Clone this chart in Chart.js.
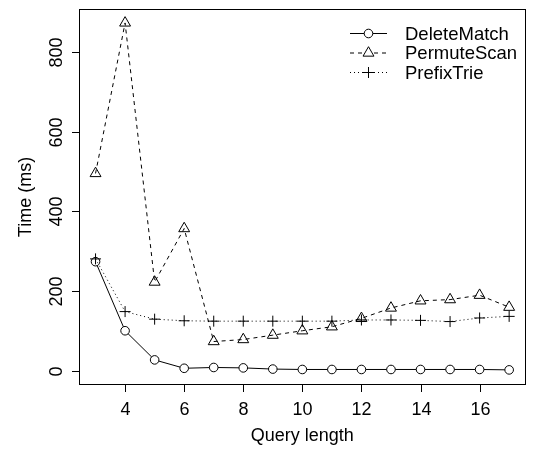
<!DOCTYPE html>
<html>
<head>
<meta charset="utf-8">
<script src="https://cdn.jsdelivr.net/npm/chart.js@4/dist/chart.umd.min.js"></script>
<style>
  html, body { margin: 0; padding: 0; background: #fff; }
  #wrap { width: 533px; height: 454px; }
</style>
</head>
<body>
<div id="wrap"><canvas id="timing" width="533" height="454"></canvas></div>
<script>
// query lengths and timings (ms)
const queryLength = [3, 4, 5, 6, 7, 8, 9, 10, 11, 12, 13, 14, 15, 16, 17];
const deleteMatch = [274, 101, 28, 7, 9, 8, 5, 4, 4, 4, 4, 4, 4, 4, 3];
const permuteScan = [495, 872, 223, 357, 74, 79, 90, 101, 111, 132, 158, 176, 179, 190, 160];
const prefixTrie = [281, 149, 130, 126, 125, 125, 125, 125, 125, 128, 128, 127, 124, 133, 137];

const xTicks = [4, 6, 8, 10, 12, 14, 16];
const yTicks = [0, 200, 400, 600, 800];
const seriesNames = ['DeleteMatch', 'PermuteScan', 'PrefixTrie'];

const AXIS_FONT = '18px "Liberation Sans", Arial, sans-serif';
const LEGEND_FONT = '18.5px "Liberation Sans", Arial, sans-serif';

function toPoints(ys) {
    return queryLength.map((x, i) => ({ x: x, y: ys[i] }));
}

// R-like axis range: data range padded by 4% each side
const xPad = (17 - 3) * 0.04;
const yPad = (872 - 0) * 0.04;

const styles = [
    { pointStyle: 'circle', pointRadius: 4.3, borderDash: [] },
    { pointStyle: 'triangle', pointRadius: 6.3, borderDash: [4, 4] },
    { pointStyle: 'cross', pointRadius: 5.5, borderDash: [1, 3] }
];

// box, ticks, tick labels, axis titles and legend, R base-graphics style
const rFrame = {
    id: 'rFrame',
    afterDraw(chart) {
        const ctx = chart.ctx;
        const area = chart.chartArea;
        const xs = chart.scales.x, ys = chart.scales.y;
        ctx.save();
        ctx.strokeStyle = '#000';
        ctx.fillStyle = '#000';
        ctx.lineWidth = 1;
        ctx.setLineDash([]);
        ctx.strokeRect(Math.round(area.left) + 0.5, Math.round(area.top) + 0.5,
            Math.round(area.right - area.left) - 1, Math.round(area.bottom - area.top) - 1);

        ctx.font = AXIS_FONT;
        // x axis
        ctx.textAlign = 'center';
        ctx.textBaseline = 'alphabetic';
        xTicks.forEach(v => {
            const px = Math.round(xs.getPixelForValue(v)) + 0.5;
            ctx.beginPath();
            ctx.moveTo(px, area.bottom);
            ctx.lineTo(px, area.bottom + 7);
            ctx.stroke();
            ctx.fillText(String(v), px, 415);
        });
        ctx.fillText('Query length', (area.left + area.right) / 2, 441);

        // y axis, labels read bottom to top
        yTicks.forEach(v => {
            const py = Math.round(ys.getPixelForValue(v)) + 0.5;
            ctx.beginPath();
            ctx.moveTo(area.left, py);
            ctx.lineTo(area.left - 7, py);
            ctx.stroke();
            ctx.save();
            ctx.translate(62, py);
            ctx.rotate(-Math.PI / 2);
            ctx.fillText(String(v), 0, 0);
            ctx.restore();
        });
        ctx.save();
        ctx.translate(31, (area.top + area.bottom) / 2);
        ctx.rotate(-Math.PI / 2);
        ctx.fillText('Time (ms)', 0, 0);
        ctx.restore();

        // legend
        ctx.font = LEGEND_FONT;
        ctx.textAlign = 'left';
        const rows = [33, 52.5, 72];
        seriesNames.forEach((name, i) => {
            const y = rows[i];
            const st = styles[i];
            ctx.setLineDash(st.borderDash);
            ctx.beginPath();
            ctx.moveTo(350, y + 0.5);
            ctx.lineTo(387, y + 0.5);
            ctx.stroke();
            ctx.setLineDash([]);
            ctx.fillStyle = '#fff';
            Chart.helpers.drawPoint(ctx, {
                pointStyle: st.pointStyle,
                radius: st.pointRadius,
                rotation: 0,
                borderWidth: 1
            }, 368.5, y + 0.5);
            ctx.fillStyle = '#000';
            ctx.fillText(name, 405, y + 6.6);
        });
        ctx.restore();
    }
};

const datasets = [deleteMatch, permuteScan, prefixTrie].map((vals, i) => ({
    label: seriesNames[i],
    data: toPoints(vals),
    borderColor: '#000',
    backgroundColor: '#fff',
    borderWidth: 1,
    borderDash: styles[i].borderDash,
    pointStyle: styles[i].pointStyle,
    pointRadius: styles[i].pointRadius,
    pointBorderWidth: 1,
    pointBorderColor: '#000',
    pointBackgroundColor: 'rgba(255,255,255,0)',
    tension: 0,
    order: 3 - i
}));
// circles hide the line inside them
datasets[0].pointBackgroundColor = '#fff';

new Chart(document.getElementById('timing'), {
    type: 'line',
    data: { datasets: datasets },
    options: {
        responsive: false,
        animation: false,
        devicePixelRatio: 1,
        layout: { padding: { left: 79, top: 9, right: 2, bottom: 69 } },
        scales: {
            x: { type: 'linear', min: 3 - xPad, max: 17 + xPad, display: false },
            y: { type: 'linear', min: 0 - yPad, max: 872 + yPad, display: false }
        },
        plugins: {
            legend: { display: false },
            tooltip: { enabled: false }
        }
    },
    plugins: [rFrame]
});
</script>
</body>
</html>
